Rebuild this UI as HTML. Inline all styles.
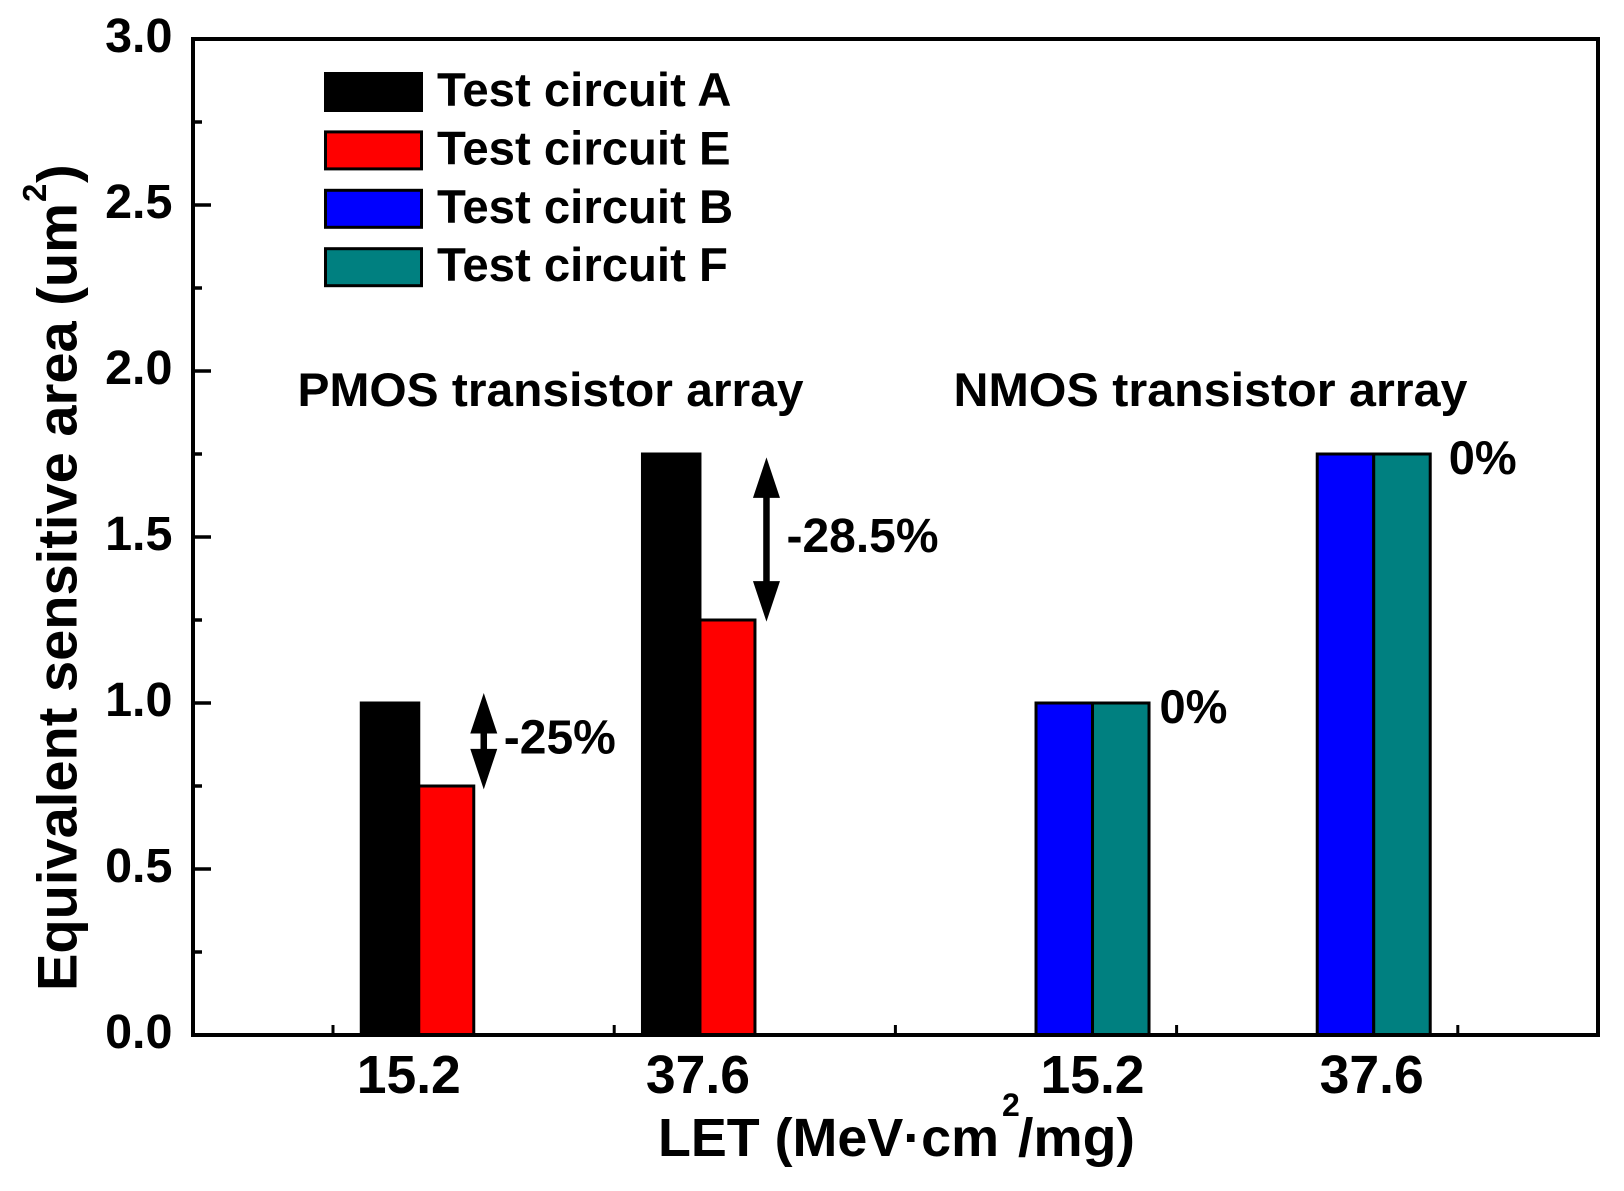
<!DOCTYPE html>
<html lang="en">
<head>
<meta charset="utf-8">
<title>Equivalent sensitive area vs LET</title>
<style>
  html, body { margin: 0; padding: 0; background: #ffffff; }
  svg { display: block; }
  text { font-family: "Liberation Sans", Arial, sans-serif; font-weight: 700; fill: #000000; }
</style>
</head>
<body>
<svg id="chart" xmlns="http://www.w3.org/2000/svg" width="1624" height="1191" viewBox="0 0 1624 1191">
  <rect x="0" y="0" width="1624" height="1191" fill="#ffffff"/>
  <text transform="translate(76.5,991) rotate(-90)" font-size="56" textLength="788" lengthAdjust="spacingAndGlyphs">Equivalent sensitive area (um</text>
  <text transform="translate(46,202) rotate(-90)" font-size="33">2</text>
  <text transform="translate(76.5,183) rotate(-90)" font-size="56">)</text>
  <text x="658" y="1156" font-size="54" textLength="341" lengthAdjust="spacingAndGlyphs">LET (MeV·cm</text>
  <text x="1002" y="1116" font-size="32">2</text>
  <text x="1018" y="1156" font-size="54" textLength="117" lengthAdjust="spacingAndGlyphs">/mg)</text>
  <text x="297.5" y="406" font-size="47" textLength="506" lengthAdjust="spacingAndGlyphs">PMOS transistor array</text>
  <text x="953.5" y="406" font-size="47" textLength="514" lengthAdjust="spacingAndGlyphs">NMOS transistor array</text>
</svg>
<script>
// ---- chart data ----
const categories = ['15.2', '37.6', '15.2', '37.6'];
const seriesNames = ['Test circuit A', 'Test circuit E', 'Test circuit B', 'Test circuit F'];
const seriesColors = ['#000000', '#ff0000', '#0000ff', '#008080'];
const seriesA = [1.0, 1.75];
const seriesE = [0.75, 1.25];
const seriesB = [1.0, 1.75];
const seriesF = [1.0, 1.75];
const yMajorTicks = [0, 0.5, 1.0, 1.5, 2.0, 2.5, 3.0];
const yTickLabels = ['0.0', '0.5', '1.0', '1.5', '2.0', '2.5', '3.0'];
const yMinorTicks = [0.25, 0.75, 1.25, 1.75, 2.25, 2.75];
const xMinorTicks = [1, 2, 3, 4, 5];
const arrowTops = [1.03, 1.74];
const arrowBottoms = [0.74, 1.245];
const arrowLabels = ['-25%', '-28.5%'];
const nmosDifferenceLabels = ['0%', '0%'];

// ---- axis functions ----
const plotLeft = 193, plotRight = 1598, plotTop = 39, plotBottom = 1035;
function yScale(v) { return plotBottom - (v / 3) * (plotBottom - plotTop); }
function xScale(v) { return 333 + 281.2 * (v - 1); }
function groupX(i) { return xScale(i + 1.305 + (i > 1 ? 0.396 : 0)); }

const NS = 'http://www.w3.org/2000/svg';
const svg = document.getElementById('chart');
function make(tag, props, text) {
  const el = document.createElementNS(NS, tag);
  for (const k in props) el.setAttribute(k, props[k]);
  if (text !== undefined) el.textContent = text;
  svg.appendChild(el);
  return el;
}

const barStroke = 3;

// ---- bars ----
function drawPair(leftValues, rightValues, leftColor, rightColor, firstGroup, leftWidth, rightWidth, leftName, rightName) {
  leftValues.forEach(function (v, i) {
    const g = groupX(firstGroup + i);
    const bar = make('rect', { x: g - leftWidth, y: yScale(v), width: leftWidth, height: plotBottom - yScale(v), fill: leftColor, stroke: '#000', 'stroke-width': barStroke });
    
    
  });
  rightValues.forEach(function (v, i) {
    const g = groupX(firstGroup + i);
    const bar = make('rect', { x: g, y: yScale(v), width: rightWidth, height: plotBottom - yScale(v), fill: rightColor, stroke: '#000', 'stroke-width': barStroke });
    
    
  });
}
drawPair(seriesA, seriesE, seriesColors[0], seriesColors[1], 0, 57.5, 55, 'test-circuit-a', 'test-circuit-e');
drawPair(seriesB, seriesF, seriesColors[2], seriesColors[3], 2, 56.5, 56.5, 'test-circuit-b', 'test-circuit-f');

// ---- plot frame ----
const frame = make('rect', { x: plotLeft, y: plotTop, width: plotRight - plotLeft, height: plotBottom - plotTop, fill: 'none', stroke: '#000', 'stroke-width': 4 });



// ---- y ticks and labels ----
yMajorTicks.forEach(function (v, i) {
  const tick = make('line', { x1: plotLeft, x2: 211, y1: yScale(v), y2: yScale(v), stroke: '#000', 'stroke-width': 3.5 });
  
  
  const label = make('text', { x: 172.5, y: yScale(v) + 13, 'font-size': 48.5, 'text-anchor': 'end' }, yTickLabels[i]);
  
  
});
yMinorTicks.forEach(function (v) {
  const tick = make('line', { x1: plotLeft, x2: 202, y1: yScale(v), y2: yScale(v), stroke: '#000', 'stroke-width': 3.5 });
  
  
});

// ---- x ticks and labels ----
xMinorTicks.forEach(function (v) {
  const tick = make('line', { x1: xScale(v), x2: xScale(v), y1: 1025, y2: plotBottom, stroke: '#000', 'stroke-width': 3 });
  
  
});
const xLabelNudge = [-10, -2, 0, -2];
categories.forEach(function (c, i) {
  const label = make('text', { x: groupX(i) + xLabelNudge[i], y: 1093, 'font-size': 53.5, 'text-anchor': 'middle' }, c);
  
  
});

// ---- legend ----
seriesNames.forEach(function (name, i) {
  const rowY = 72 + i * 58.4 + 1.5;
  const swatch = make('rect', { x: 325.5, y: rowY, width: 96, height: 37, fill: seriesColors[i], stroke: '#000', 'stroke-width': 3 });
  
  
  const label = make('text', { x: 437, y: 106 + i * 58.4, 'font-size': 47.3 }, name);
  
  
});

// ---- difference arrows ----
arrowTops.forEach(function (top, i) {
  const cx = groupX(i) + (i === 0 ? 65 : 66.5);
  const t = yScale(top), b = yScale(arrowBottoms[i]);
  const head = 40.5, hw = 13.5, sw = 3.25;
  const d = 'M' + cx + ' ' + t +
    ' L' + (cx + hw) + ' ' + (t + head) + ' L' + (cx + sw) + ' ' + (t + head) +
    ' L' + (cx + sw) + ' ' + (b - head) + ' L' + (cx + hw) + ' ' + (b - head) +
    ' L' + cx + ' ' + b +
    ' L' + (cx - hw) + ' ' + (b - head) + ' L' + (cx - sw) + ' ' + (b - head) +
    ' L' + (cx - sw) + ' ' + (t + head) + ' L' + (cx - hw) + ' ' + (t + head) + ' Z';
  const arrow = make('path', { d: d, fill: '#000' });
  
  
  const label = make('text', { x: cx + 20, y: (t + b) / 2 + 12.5, 'font-size': 48 }, arrowLabels[i]);
  
  
});

// ---- NMOS 0% labels ----
nmosDifferenceLabels.forEach(function (text, i) {
  const label = make('text', { x: groupX(i + 2) + (i === 0 ? 67 : 75), y: yScale(seriesB[i]) + 20, 'font-size': 47 }, text);
  
  
});
</script>
</body>
</html>
